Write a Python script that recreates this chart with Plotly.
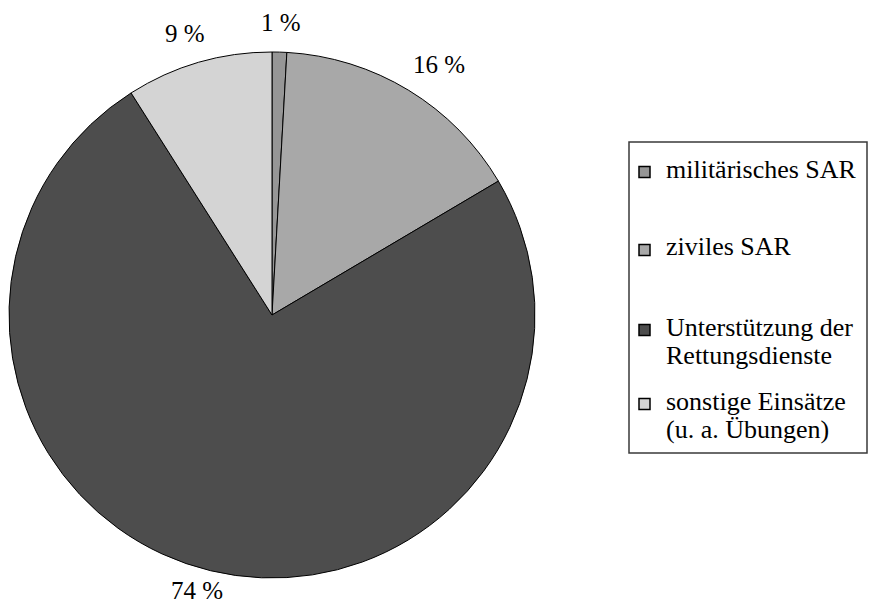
import math
import plotly.graph_objects as go

# ---- data ----
categories = ["militärisches SAR", "ziviles SAR",
              "Unterstützung der<br>Rettungsdienste",
              "sonstige Einsätze<br>(u. a. Übungen)"]
shares = [0.9, 15.6, 74.5, 9.0]
share_labels = ["1 %", "16 %", "74 %", "9 %"]
colors = ["#969696", "#a8a8a8", "#4d4d4d", "#d4d4d4"]

W, H = 871, 607
CX, CY, R = 272, 315, 263
FONT = "Liberation Serif, Times New Roman, serif"
FS_LABEL = 25
FS_LEG = 26

def px(x):
    return x / W

def py(y):
    return 1 - y / H

fig = go.Figure()
fig.add_trace(go.Pie(
    labels=categories, values=shares, sort=False, direction="clockwise",
    rotation=0, textinfo="none", hoverinfo="label+percent",
    marker=dict(colors=colors, line=dict(color="#000000", width=1)),
    domain=dict(x=[px(CX - R), px(CX + R)], y=[py(CY + R), py(CY - R)]),
    showlegend=False,
))

annotations = []
shapes = []

# percentage labels placed just outside the rim at each slice's mid-angle
total = sum(shares)
cum = 0.0
for v, t in zip(shares, share_labels):
    mid = (cum + v / 2) / total * 2 * math.pi
    cum += v
    dx, dy = math.sin(mid), -math.cos(mid)
    hw = 6.5 * len(t)
    if dy < 0:
        gap, hh = 21, 9
    else:
        gap, hh = 20, 0
    x = CX + dx * (R + gap) + dx * hw * 1.4
    y = CY + dy * (R + gap) + dy * hh
    annotations.append(dict(x=px(x), y=py(y), xref="paper", yref="paper",
                            text=t, showarrow=False, xanchor="center", yanchor="middle",
                            font=dict(family=FONT, size=FS_LABEL, color="#000000")))

# legend drawn as a framed box
box = dict(x0=629, x1=867, y0=142, y1=453)
shapes.append(dict(type="rect", xref="paper", yref="paper",
                   x0=px(box["x0"]), x1=px(box["x1"]), y0=py(box["y1"]), y1=py(box["y0"]),
                   line=dict(color="#3a3a3a", width=1.5), fillcolor="rgba(0,0,0,0)"))
item_top_line = [169, 247, 327, 401]   # centre of first text line of each item
line_gap = 28
sq_x0, sq_size = 639, 11
text_x = 664
for cat, col, yc in zip(categories, colors, item_top_line):
    sy = yc + 3
    shapes.append(dict(type="rect", xref="paper", yref="paper",
                       x0=px(sq_x0), x1=px(sq_x0 + sq_size),
                       y0=py(sy + sq_size / 2), y1=py(sy - sq_size / 2),
                       line=dict(color="#000000", width=1.5), fillcolor=col))
    for i, line in enumerate(cat.split("<br>")):
        annotations.append(dict(x=px(text_x), y=py(yc + i * line_gap), xref="paper", yref="paper",
                                text=line, showarrow=False, xanchor="left", yanchor="middle",
                                font=dict(family=FONT, size=FS_LEG, color="#000000")))

fig.update_layout(
    width=W, height=H, margin=dict(l=0, r=0, t=0, b=0),
    paper_bgcolor="#ffffff", plot_bgcolor="#ffffff",
    annotations=annotations, shapes=shapes, showlegend=False,
)
fig.write_html("out.html")
